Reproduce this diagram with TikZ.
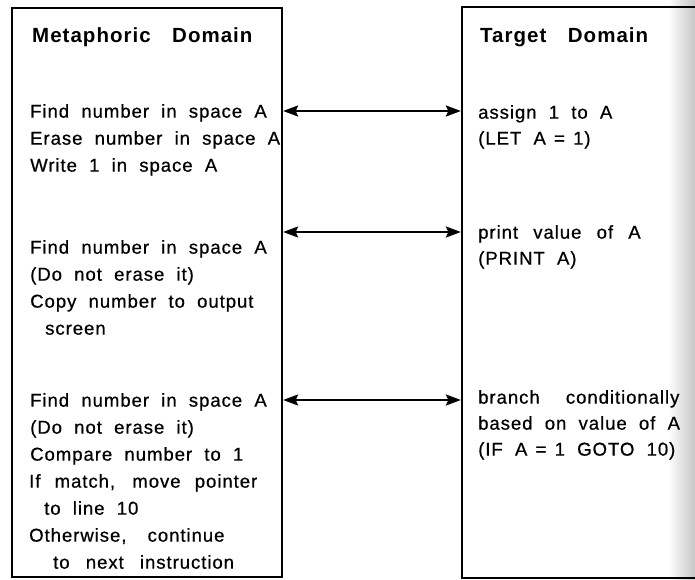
\documentclass[tikz,border=0pt]{standalone}
\usepackage{fontspec}
\setmainfont{Liberation Sans}[LetterSpace=5, WordSpace=2.0,
  UprightFeatures={FakeBold=0.6}]
\usetikzlibrary{arrows.meta}

\begin{document}
\begin{tikzpicture}[x=1pt,y=-1pt,
  frame/.style={draw, line width=2.3pt, inner sep=0pt, rectangle},
  txt/.style={anchor=west, inner sep=0pt, text height=13.3pt, text depth=0pt,
    font=\fontsize{18.6}{22}\selectfont},
  headtxt/.style={anchor=west, inner sep=0pt, text height=14.8pt, text depth=0pt,
    font=\fontsize{20.5}{24}\selectfont\bfseries},
  tip/.tip={Stealth[length=15pt,width=11pt,inset=2.5pt]},
  link/.style={line width=2.2pt, tip-tip}
]
\useasboundingbox (0,0) rectangle (695,580);
\clip (0,0) rectangle (695,580);

% faint shadow along the right edge of the page
\shade[left color=white, right color=black!22] (668,0) rectangle (695,580);

% the two domain boxes (the right one runs off the page)
\node[frame, minimum width=270pt, minimum height=569pt] (L) at (147,292.5) {};
\node[frame, minimum width=300pt, minimum height=571pt] (R) at (612,292.5) {};

% headings
\node[headtxt] (hl) at (32,35) {Metaphoric\hspace{8pt} Domain};
\node[headtxt] (hr) at (480,35) {Target\hspace{8pt} Domain};

% metaphoric domain steps
\node[txt] (l1)  at (30,111) {Find number in space A};
\node[txt] (l2)  at (30,138) {Erase number in space A};
\node[txt] (l3)  at (30,165) {Write 1 in space A};

\node[txt] (l4)  at (30,247) {Find number in space A};
\node[txt] (l5)  at (30,274) {(Do not erase it)};
\node[txt] (l6)  at (30,301) {Copy number to output};
\node[txt] (l7)  at (45,328) {screen};

\node[txt] (l8)  at (30,400) {Find number in space A};
\node[txt] (l9)  at (30,427) {(Do not erase it)};
\node[txt] (l10) at (30,454) {Compare number to 1};
\node[txt] (l11) at (29,481) {If\hspace{2pt} match,\hspace{5pt} move\hspace{2pt} pointer};
\node[txt] (l12) at (44,508) {to line 10};
\node[txt] (l13) at (29,535) {Otherwise,\hspace{9pt} continue};
\node[txt] (l14) at (53,562) {to\hspace{4pt} next\hspace{4pt} instruction};

% target domain statements
\node[txt] (r1) at (478,112) {assign 1 to A};
\node[txt] (r2) at (478,138) {(LET A\hspace{-4pt} =\hspace{-4pt} 1)};

\node[txt] (r3) at (478,232) {print\hspace{3pt} value\hspace{3pt} of\hspace{3pt} A};
\node[txt] (r4) at (478,258) {(PRINT A)};

\node[txt] (r5) at (478,397) {branch\hspace{14pt} conditionally};
\node[txt] (r6) at (478,423) {based on value of A};
\node[txt] (r7) at (478,449) {(IF A\hspace{-4pt} =\hspace{-4pt} 1 GOTO 10)};

% correspondences between the domains
\draw[link] (L.east |- l1) -- (R.west |- l1);
\draw[link] (L.east |- r3) -- (R.west |- r3);
\draw[link] (L.east |- l8) -- (R.west |- l8);
\end{tikzpicture}
\end{document}
